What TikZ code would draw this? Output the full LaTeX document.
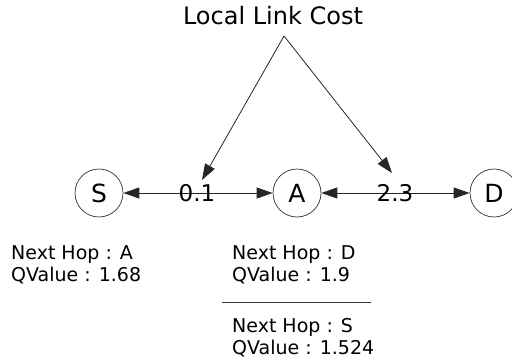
\documentclass[tikz,border=0pt]{standalone}
\usepackage{fontspec}
\setmainfont{DejaVu Sans}
\usetikzlibrary{arrows.meta}
\begin{document}
\begin{tikzpicture}[x=1pt,y=-1pt,
  nd/.style={draw=black!80,line width=0.7pt,circle,minimum size=48pt,inner sep=0pt,font=\fontsize{25}{28}\selectfont},
  tip/.style={Triangle[length=16pt,width=11pt]},
  conn/.style={draw=black!85,line width=0.8pt,-{Triangle[length=16pt,width=11pt]}},
  wlab/.style={font=\fontsize{23}{26}\selectfont,inner sep=0pt},
  info/.style={font=\fontsize{19}{22}\selectfont,align=left,anchor=north west,inner sep=0pt}]
\useasboundingbox (0,0) rectangle (512,364);
\node[nd] (S) at (99,193) {S};
\node[nd] (A) at (297,193) {A};
\node[nd] (D) at (494,193) {D};
\node[font=\fontsize{24}{28}\selectfont,inner sep=0pt] (T) at (273,16) {Local Link Cost};
\coordinate (apex) at (284,36);
\coordinate (t1) at (202,180);
\coordinate (t2) at (392,173);
\draw[conn,{Triangle[length=16pt,width=11pt]}-{Triangle[length=16pt,width=11pt]}] (S) -- (A);
\draw[conn,{Triangle[length=16pt,width=11pt]}-{Triangle[length=16pt,width=11pt]}] (A) -- (D);
\node[wlab] (w1) at (197,193) {0.1};
\node[wlab] (w2) at (395,193) {2.3};
\draw[conn] (apex) -- (t1);
\draw[conn] (apex) -- (t2);
\node[info] (iS) at (11,245) {Next Hop : A\\QValue : 1.68};
\node[info] (iA1) at (232,245) {Next Hop : D\\QValue : 1.9};
\node[info] (iA2) at (232,318) {Next Hop : S\\QValue : 1.524};
\coordinate (sepL) at (222,302);
\coordinate (sepR) at (371,302);
\draw[black!80,line width=0.8pt] (sepL) -- (sepR);
\end{tikzpicture}
\end{document}
